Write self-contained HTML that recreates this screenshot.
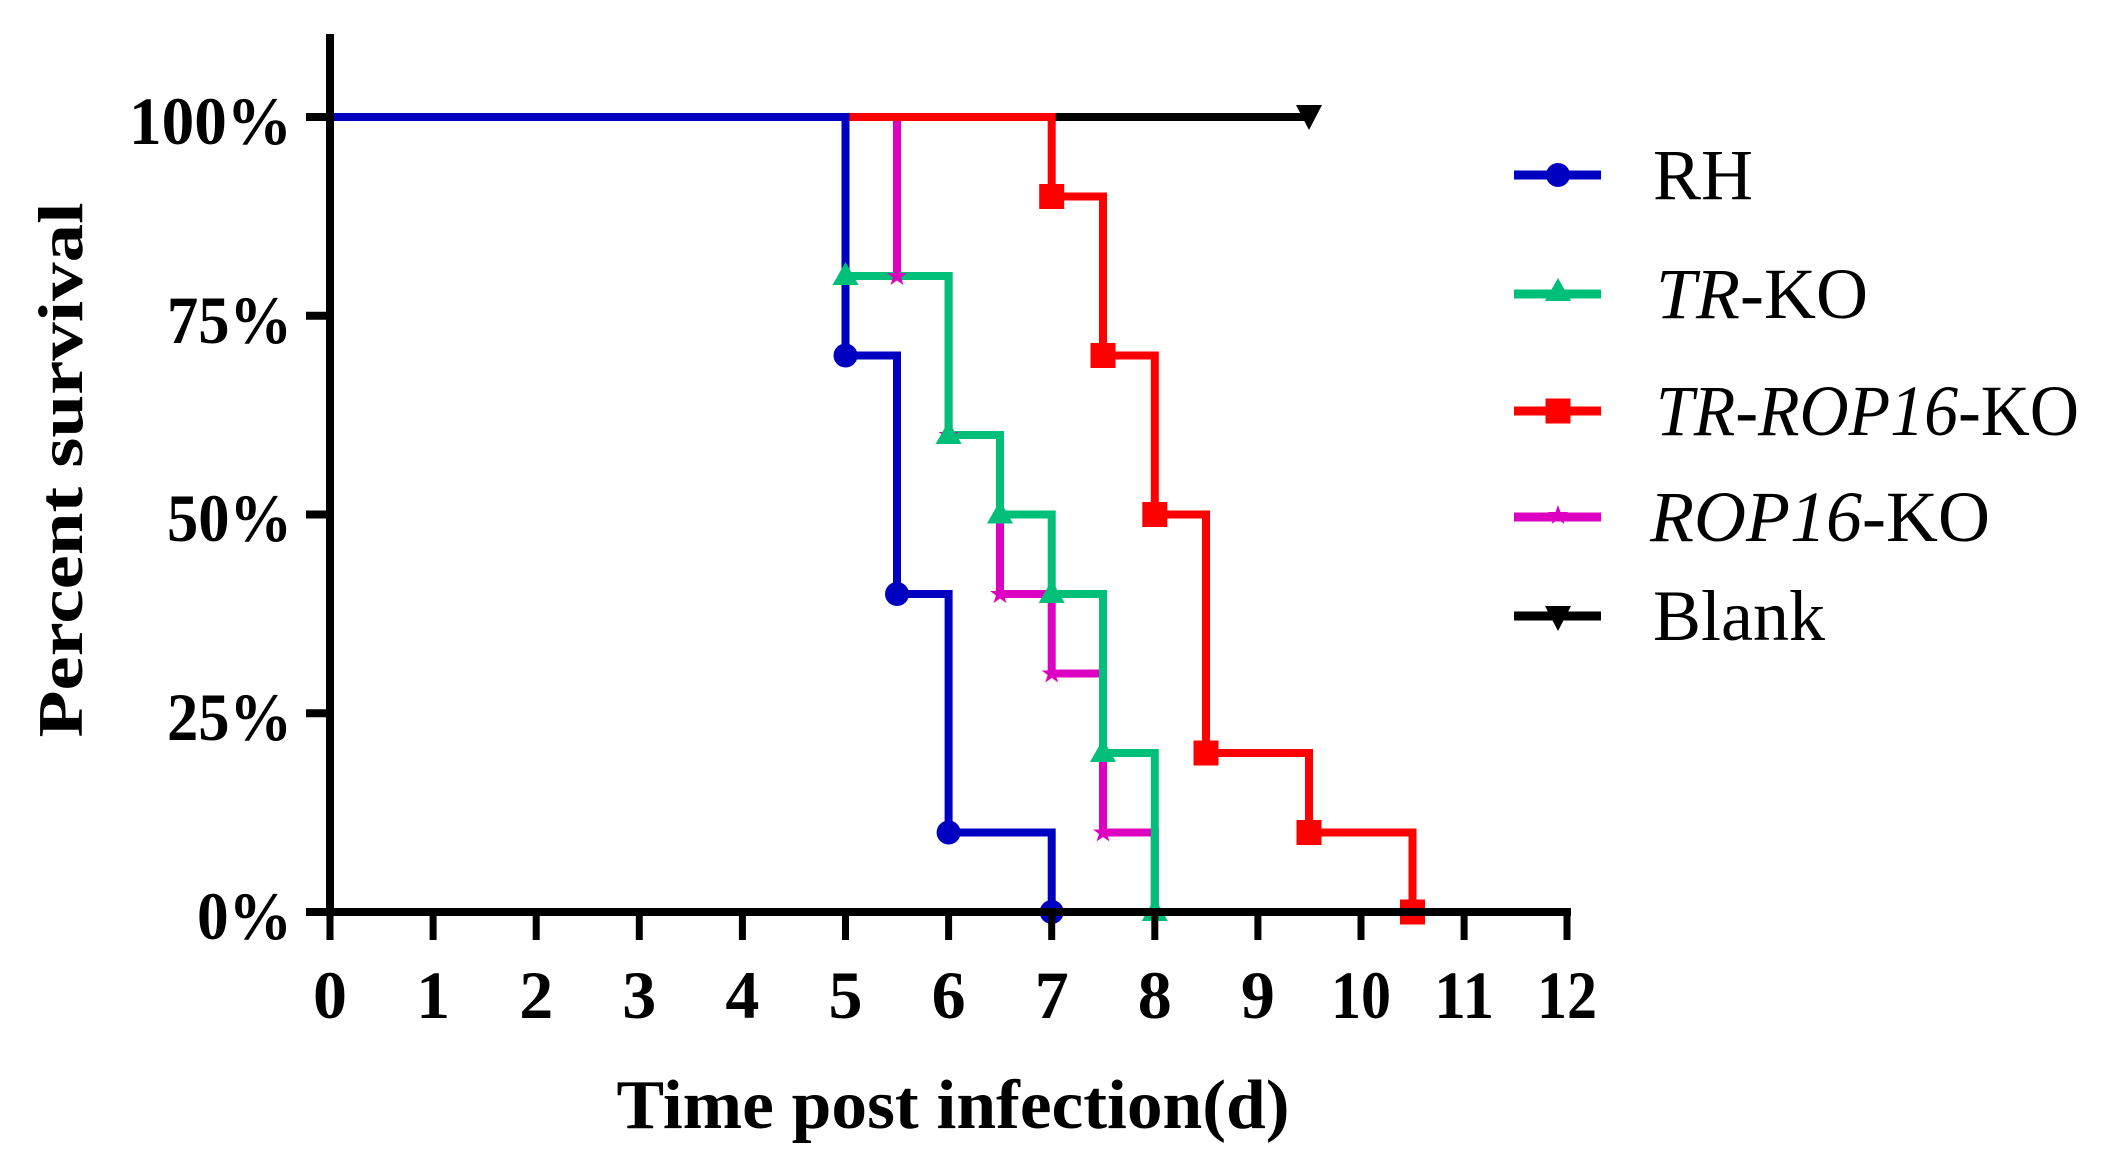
<!DOCTYPE html>
<html><head><meta charset="utf-8"><style>body{margin:0;background:#fff}svg{display:block}</style></head><body>
<svg width="2106" height="1175" viewBox="0 0 2106 1175" xmlns="http://www.w3.org/2000/svg">
<defs>
<circle id="mc" r="12" fill="#0000C0"/>
<path id="mt" d="M0,-14 L13,9 L-13,9 Z" fill="#00BF78"/>
<rect id="ms" x="-12.5" y="-12.5" width="25" height="25" fill="#FF0000"/>
<path id="mst" d="M0,-10 L2.5,-3 L10,-3 L4,1.5 L6.5,9 L0,4.5 L-6.5,9 L-4,1.5 L-10,-3 L-2.5,-3 Z" fill="#DD00C0"/>
<path id="md" d="M-13,-12 L13,-12 L0,13 Z" fill="#000"/>
</defs>
<g fill="none" stroke-width="8" stroke-linejoin="miter" stroke-linecap="square">
<path d="M330,117 H1309" stroke="#000"/>
<path d="M330,117 H897 V276 H948.6 V435 H1000 V594 H1051.7 V673.5 H1103 V832.5 H1154.8 V912" stroke="#DD00C0"/>
<path d="M330,117 H845.5 V276 H948.6 V435 H1000 V514.5 H1051.7 V594 H1103 V753 H1154.8 V912" stroke="#00BF78"/>
<path d="M330,117 H1051.7 V196.5 H1103 V355.5 H1154.8 V514.5 H1206 V753 H1309 V832.5 H1412.5 V912" stroke="#FF0000"/>
<path d="M330,117 H845.5 V355.5 H897 V594 H948.6 V832.5 H1051.7 V912" stroke="#0000C0"/>
</g>
<use href="#md" x="1309" y="117"/>
<use href="#mst" x="897" y="276"/><use href="#mst" x="948.6" y="435"/><use href="#mst" x="1000" y="594"/><use href="#mst" x="1051.7" y="673.5"/><use href="#mst" x="1103" y="832.5"/><use href="#mst" x="1154.8" y="912"/>
<use href="#mt" x="845.5" y="276"/><use href="#mt" x="948.6" y="435"/><use href="#mt" x="1000" y="514.5"/><use href="#mt" x="1051.7" y="594"/><use href="#mt" x="1103" y="753"/><use href="#mt" x="1154.8" y="912"/>
<use href="#ms" x="1051.7" y="196.5"/><use href="#ms" x="1103" y="355.5"/><use href="#ms" x="1154.8" y="514.5"/><use href="#ms" x="1206" y="753"/><use href="#ms" x="1309" y="832.5"/><use href="#ms" x="1412.5" y="912"/>
<use href="#mc" x="845.5" y="355.5"/><use href="#mc" x="897" y="594"/><use href="#mc" x="948.6" y="832.5"/><use href="#mc" x="1051.7" y="912"/>
<g stroke="#000" stroke-width="8">
<line x1="330" y1="34" x2="330" y2="916"/>
<line x1="306" y1="912" x2="1571" y2="912"/>
<line x1="306" y1="117" x2="330" y2="117"/><line x1="306" y1="315.75" x2="330" y2="315.75"/><line x1="306" y1="514.5" x2="330" y2="514.5"/><line x1="306" y1="713.25" x2="330" y2="713.25"/>
</g>
<g stroke="#000" stroke-width="7">
<line x1="433.1" y1="912" x2="433.1" y2="940"/><line x1="536.2" y1="912" x2="536.2" y2="940"/><line x1="639.3" y1="912" x2="639.3" y2="940"/><line x1="742.4" y1="912" x2="742.4" y2="940"/><line x1="845.5" y1="912" x2="845.5" y2="940"/><line x1="948.6" y1="912" x2="948.6" y2="940"/><line x1="1051.7" y1="912" x2="1051.7" y2="940"/><line x1="1154.8" y1="912" x2="1154.8" y2="940"/><line x1="1257.9" y1="912" x2="1257.9" y2="940"/><line x1="1361" y1="912" x2="1361" y2="940"/><line x1="1464.1" y1="912" x2="1464.1" y2="940"/><line x1="1567" y1="912" x2="1567" y2="940"/><line x1="330" y1="912" x2="330" y2="940"/>
</g>
<g font-family="Liberation Serif, serif" font-weight="bold" font-size="68" fill="#000" text-anchor="end">
<text x="292" y="144" textLength="163" lengthAdjust="spacingAndGlyphs">100%</text>
<text x="292" y="343" textLength="125" lengthAdjust="spacingAndGlyphs">75%</text>
<text x="292" y="541" textLength="125" lengthAdjust="spacingAndGlyphs">50%</text>
<text x="292" y="740" textLength="125" lengthAdjust="spacingAndGlyphs">25%</text>
<text x="292" y="939" textLength="95" lengthAdjust="spacingAndGlyphs">0%</text>
</g>
<g font-family="Liberation Serif, serif" font-weight="bold" font-size="68" fill="#000" text-anchor="middle">
<text x="330" y="1018">0</text><text x="433.1" y="1018">1</text><text x="536.2" y="1018">2</text><text x="639.3" y="1018">3</text><text x="742.4" y="1018">4</text><text x="845.5" y="1018">5</text><text x="948.6" y="1018">6</text><text x="1051.7" y="1018">7</text><text x="1154.8" y="1018">8</text><text x="1257.9" y="1018">9</text>
<text x="1361" y="1018" textLength="60" lengthAdjust="spacingAndGlyphs">10</text><text x="1464.1" y="1018" textLength="60" lengthAdjust="spacingAndGlyphs">11</text><text x="1567" y="1018" textLength="60" lengthAdjust="spacingAndGlyphs">12</text>
</g>
<text x="953" y="1128" font-family="Liberation Serif, serif" font-weight="bold" font-size="70" text-anchor="middle" textLength="673" lengthAdjust="spacingAndGlyphs">Time post infection(d)</text>
<text transform="translate(82,470) rotate(-90)" font-family="Liberation Serif, serif" font-weight="bold" font-size="64" text-anchor="middle" textLength="535" lengthAdjust="spacingAndGlyphs">Percent survival</text>
<g stroke-width="9">
<line x1="1514" y1="175" x2="1601" y2="175" stroke="#0000C0"/>
<line x1="1514" y1="294" x2="1601" y2="294" stroke="#00BF78"/>
<line x1="1514" y1="411" x2="1601" y2="411" stroke="#FF0000"/>
<line x1="1514" y1="517" x2="1601" y2="517" stroke="#DD00C0"/>
<line x1="1514" y1="616" x2="1601" y2="616" stroke="#000"/>
</g>
<use href="#mc" x="1558" y="175"/><use href="#mt" x="1558" y="292"/><use href="#ms" x="1558" y="411"/><use href="#mst" x="1558" y="515"/><use href="#md" x="1558" y="618"/>
<g font-family="Liberation Serif, serif" font-size="72" fill="#000">
<text x="1653" y="199">RH</text>
<text x="1656" y="318"><tspan font-style="italic">TR</tspan>-KO</text>
<text x="1656" y="435" textLength="423" lengthAdjust="spacingAndGlyphs"><tspan font-style="italic">TR</tspan>-<tspan font-style="italic">ROP16</tspan>-KO</text>
<text x="1650" y="541"><tspan font-style="italic">ROP16</tspan>-KO</text>
<text x="1653" y="640">Blank</text>
</g>
</svg>
</body></html>
